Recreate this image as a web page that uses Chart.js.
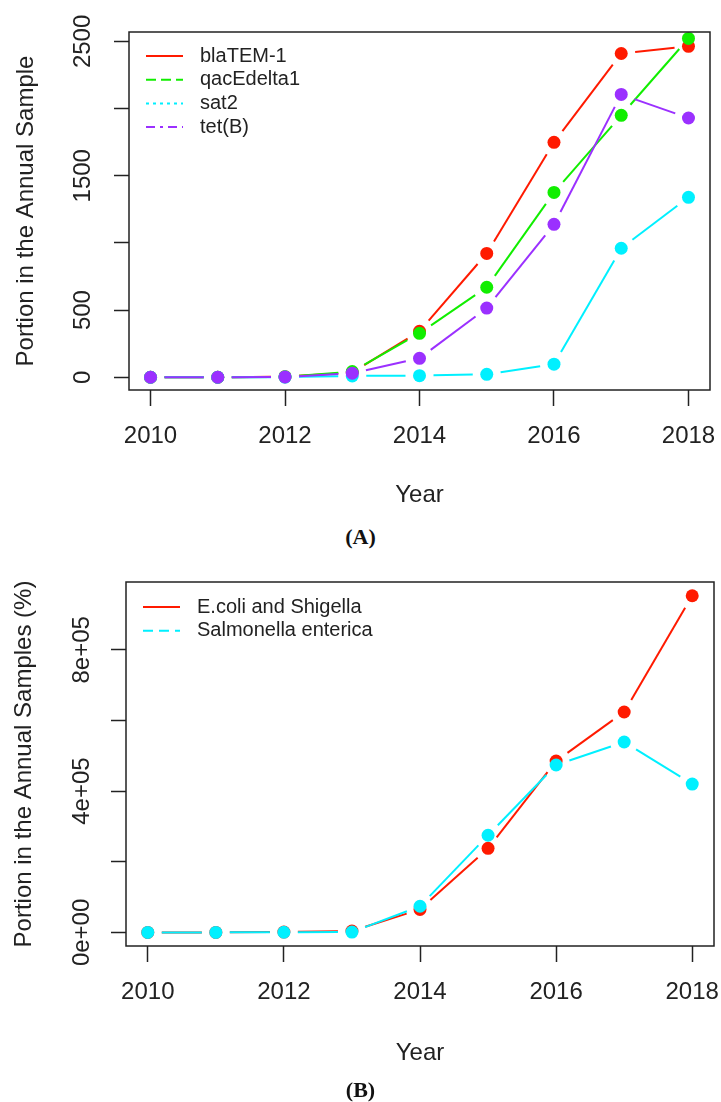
<!DOCTYPE html>
<html>
<head>
<meta charset="utf-8">
<script src="https://cdn.jsdelivr.net/npm/chart.js@4.4.1/dist/chart.umd.min.js"></script>
<style>
  body { margin: 0; background: #fff; width: 721px; height: 1102px; position: relative; overflow: hidden; }
  .panel { position: absolute; left: 0; width: 721px; height: 520px; }
  .cap { position: absolute; left: 0; width: 721px; text-align: center; line-height: 26px;
         font: bold 22px "Liberation Serif", "Times New Roman", serif; color: #111; }
</style>
</head>
<body>
<div class="panel" style="top:0"><canvas id="chartA"></canvas></div>
<div class="cap" style="top:524px">(A)</div>
<div class="panel" style="top:560px"><canvas id="chartB"></canvas></div>
<div class="cap" style="top:1077px">(B)</div>

<script>
// data
const years = [2010, 2011, 2012, 2013, 2014, 2015, 2016, 2017, 2018];

// panel A: gene counts
const blaTEM1   = [0, 0, 4, 35, 342, 922, 1749, 2410, 2463];
const qacEdelta1 = [0, 0, 3, 42, 327, 670, 1376, 1950, 2522];
const sat2      = [0, 0, 1, 10, 12, 22, 97, 960, 1339];
const tetB      = [0, 0, 2, 30, 141, 515, 1138, 2105, 1930];

// panel B: species
const ecoliShigella = [0, 0, 1000, 4000, 65000, 238000, 485000, 624000, 953000];
const salmonella    = [0, 0, 500, 1000, 74000, 275000, 474000, 539000, 420000];

// ticks and labels
const xTicks = [2010, 2012, 2014, 2016, 2018];
const yTicksA = [0, 500, 1000, 1500, 2000, 2500];
const yLabelValsA = [0, 500, 1500, 2500];
const yLabelsA = ["0", "500", "1500", "2500"];
const yTicksB = [0, 200000, 400000, 600000, 800000];
const yLabelValsB = [0, 400000, 800000];
const yLabelsB = ["0e+00", "4e+05", "8e+05"];

const FONT = '"Liberation Sans", Arial, sans-serif';
const INK = '#222';
const GAP = 14;

// R type="b": leave a gap around each point
function gapDash(ctx) {
  const len = Math.hypot(ctx.p1.x - ctx.p0.x, ctx.p1.y - ctx.p0.y);
  if (len <= 2 * GAP) return [0, len];
  return [0, GAP, len - 2 * GAP, GAP];
}

const rAxes = {
  id: 'rAxes',
  afterDraw(chart, args, opts) {
    const { ctx, chartArea: a } = chart;
    const y = chart.scales.y;
    ctx.save();
    ctx.strokeStyle = INK;
    ctx.lineWidth = 1.5;
    ctx.strokeRect(a.left, a.top, a.right - a.left, a.bottom - a.top);

    // rotated y tick labels
    ctx.fillStyle = INK;
    ctx.font = '24px ' + FONT;
    ctx.textAlign = 'center';
    ctx.textBaseline = 'middle';
    opts.labelVals.forEach((v, i) => {
      ctx.save();
      ctx.translate(a.left - opts.labelGap, y.getPixelForValue(v));
      ctx.rotate(-Math.PI / 2);
      ctx.fillText(opts.labels[i], 0, 0);
      ctx.restore();
    });

    // legend, top left inside the box
    ctx.font = '20px ' + FONT;
    ctx.textAlign = 'left';
    chart.data.datasets.forEach((ds, i) => {
      const ly = a.top + opts.legTop + i * opts.legStep;
      ctx.strokeStyle = ds.borderColor;
      ctx.lineWidth = 2;
      ctx.setLineDash(opts.dashes[i]);
      ctx.beginPath();
      ctx.moveTo(a.left + 17, ly);
      ctx.lineTo(a.left + 54, ly);
      ctx.stroke();
      ctx.setLineDash([]);
      ctx.fillStyle = INK;
      ctx.fillText(ds.label, a.left + 71, ly);
    });
    ctx.restore();
  }
};

function makeChart(id, series, cfg) {
  const n = series.length;
  return new Chart(document.getElementById(id), {
    type: 'line',
    data: {
      datasets: series.map((s, i) => ({
        label: s.label,
        data: years.map((yr, k) => ({ x: yr, y: s.values[k] })),
        borderColor: s.color,
        backgroundColor: s.color,
        pointBackgroundColor: s.color,
        pointBorderWidth: 0,
        pointRadius: 6.5,
        borderWidth: 2,
        tension: 0,
        clip: false,
        order: n - 1 - i,
        segment: { borderDash: gapDash }
      }))
    },
    options: {
      responsive: true,
      maintainAspectRatio: false,
      animation: false,
      events: [],
      layout: { padding: { top: cfg.top, right: cfg.right, left: 0, bottom: 0 } },
      plugins: {
        legend: { display: false },
        tooltip: { enabled: false },
        rAxes: {
          labelVals: cfg.labelVals, labels: cfg.labels, labelGap: cfg.labelGap,
          legTop: cfg.legTop, legStep: 23.7, dashes: cfg.dashes
        }
      },
      scales: {
        x: {
          type: 'linear', min: 2009.68, max: 2018.32,
          afterBuildTicks: s => { s.ticks = xTicks.map(v => ({ value: v })); },
          afterFit: s => { s.height = cfg.xHeight; s.paddingLeft = 0; s.paddingRight = 0; },
          grid: { drawOnChartArea: false, drawTicks: true, tickLength: 16, tickColor: INK, tickWidth: 1.5 },
          border: { display: false },
          ticks: { font: { size: 24, family: FONT }, color: INK, padding: 16, maxRotation: 0, autoSkip: false,
                   callback: v => String(v) },
          title: { display: true, text: 'Year', color: INK, font: { size: 24, family: FONT },
                   padding: { top: 0, bottom: cfg.xTitlePad } }
        },
        y: {
          type: 'linear', min: cfg.yMin, max: cfg.yMax,
          afterBuildTicks: s => { s.ticks = cfg.yTicks.map(v => ({ value: v })); },
          afterFit: s => { s.width = cfg.yWidth; s.paddingTop = 0; s.paddingBottom = 0; },
          grid: { drawOnChartArea: false, drawTicks: true, tickLength: 15, tickColor: INK, tickWidth: 1.5 },
          border: { display: false },
          ticks: { display: false },
          title: { display: true, text: cfg.yTitle, color: INK, font: { size: 24, family: FONT },
                   padding: { top: cfg.yTitlePad, bottom: 0 } }
        }
      }
    },
    plugins: [rAxes]
  });
}

makeChart('chartA', [
  { label: 'blaTEM-1', values: blaTEM1, color: '#ff1a00' },
  { label: 'qacEdelta1', values: qacEdelta1, color: '#11ee00' },
  { label: 'sat2', values: sat2, color: '#00f0ff' },
  { label: 'tet(B)', values: tetB, color: '#9b30ff' }
], {
  top: 32, right: 11, yWidth: 129, xHeight: 130, yMin: -95, yMax: 2570,
  yTicks: yTicksA, labelVals: yLabelValsA, labels: yLabelsA, labelGap: 46,
  yTitle: 'Portion in the Annual Sample', yTitlePad: 12, xTitlePad: 10,
  legTop: 24, dashes: [[], [10, 5], [3, 4], [9, 5, 3, 5]]
});

makeChart('chartB', [
  { label: 'E.coli and Shigella', values: ecoliShigella, color: '#ff1a00' },
  { label: 'Salmonella enterica', values: salmonella, color: '#00f0ff' }
], {
  top: 22, right: 7, yWidth: 126, xHeight: 134, yMin: -38500, yMax: 992000,
  yTicks: yTicksB, labelVals: yLabelValsB, labels: yLabelsB, labelGap: 44,
  yTitle: 'Portion in the Annual Samples (%)', yTitlePad: 10, xTitlePad: 12,
  legTop: 25, dashes: [[], [10, 6]]
});
</script>
</body>
</html>
